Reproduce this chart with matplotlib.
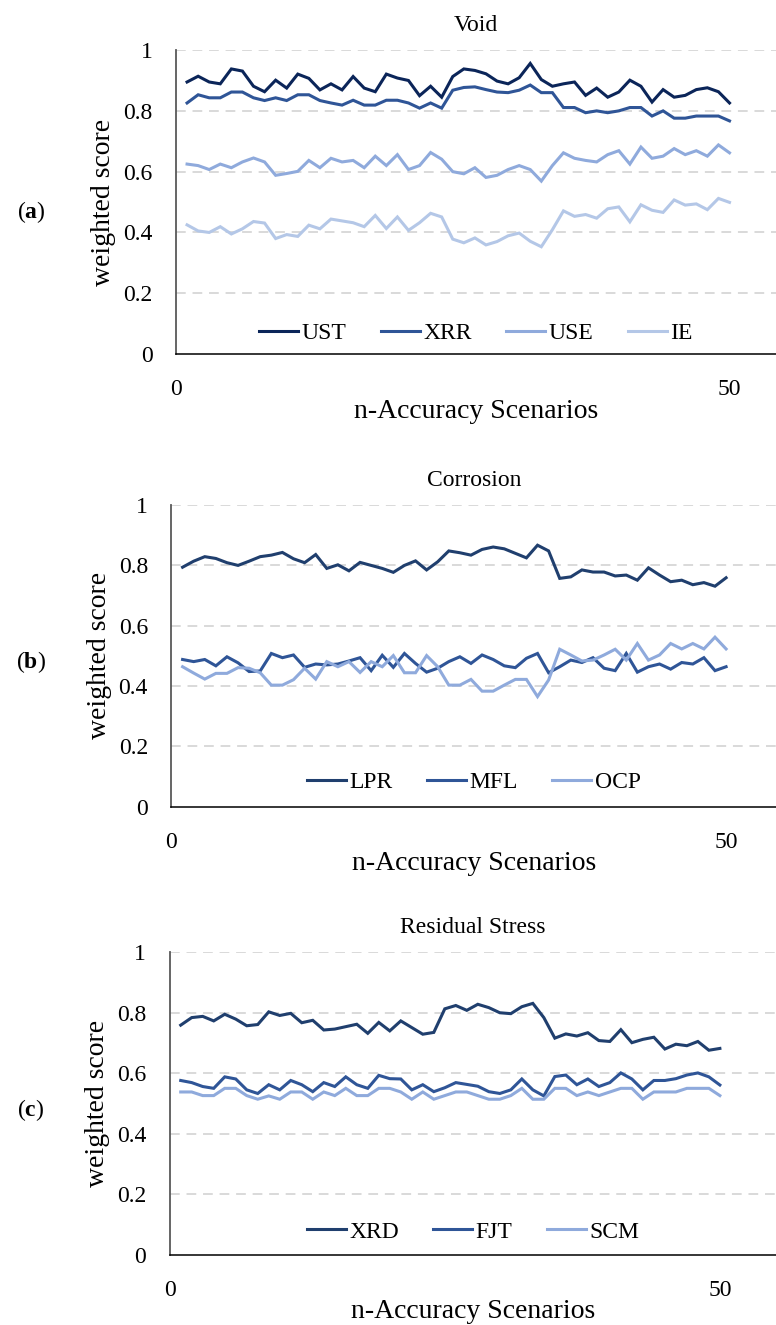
import matplotlib
matplotlib.use("Agg")
import matplotlib.pyplot as plt

plt.rcParams['font.family'] = ['Liberation Serif', 'DejaVu Serif']
plt.rcParams['mathtext.fontset'] = 'custom'
plt.rcParams['mathtext.rm'] = 'Liberation Serif'
plt.rcParams['mathtext.bf'] = 'Liberation Serif:bold'

# escenarios 1..50
scenarios = list(range(1, 51))

# (a) Void
void_labels = ["UST", "XRR", "USE", "IE"]
void_ust = [0.895, 0.914, 0.895, 0.889, 0.938, 0.931, 0.881, 0.863, 0.901, 0.875,
            0.921, 0.907, 0.869, 0.889, 0.869, 0.913, 0.875, 0.863, 0.921, 0.908,
            0.900, 0.850, 0.881, 0.845, 0.913, 0.938, 0.933, 0.922, 0.898, 0.889,
            0.909, 0.956, 0.903, 0.881, 0.889, 0.895, 0.851, 0.875, 0.845, 0.862,
            0.901, 0.881, 0.829, 0.870, 0.845, 0.851, 0.870, 0.876, 0.863, 0.826]
void_xrr = [0.826, 0.853, 0.843, 0.843, 0.862, 0.862, 0.843, 0.834, 0.843, 0.834,
            0.853, 0.853, 0.834, 0.826, 0.819, 0.835, 0.819, 0.819, 0.835, 0.835,
            0.826, 0.809, 0.826, 0.809, 0.868, 0.877, 0.879, 0.870, 0.862, 0.860,
            0.868, 0.885, 0.860, 0.860, 0.811, 0.811, 0.794, 0.800, 0.794, 0.800,
            0.811, 0.811, 0.783, 0.800, 0.776, 0.776, 0.783, 0.783, 0.783, 0.767]
void_use = [0.625, 0.620, 0.607, 0.625, 0.613, 0.632, 0.645, 0.632, 0.588, 0.594,
            0.601, 0.637, 0.613, 0.644, 0.632, 0.637, 0.613, 0.651, 0.620, 0.656,
            0.607, 0.620, 0.663, 0.641, 0.600, 0.593, 0.613, 0.581, 0.588, 0.607,
            0.620, 0.607, 0.569, 0.620, 0.662, 0.644, 0.637, 0.632, 0.656, 0.669,
            0.625, 0.681, 0.644, 0.651, 0.676, 0.656, 0.669, 0.651, 0.688, 0.662]
void_ie = [0.425, 0.405, 0.400, 0.419, 0.395, 0.412, 0.436, 0.431, 0.380, 0.393,
           0.387, 0.424, 0.412, 0.444, 0.438, 0.432, 0.419, 0.456, 0.413, 0.451,
           0.407, 0.432, 0.463, 0.451, 0.378, 0.366, 0.382, 0.359, 0.370, 0.389,
           0.398, 0.371, 0.353, 0.409, 0.471, 0.453, 0.459, 0.447, 0.478, 0.484,
           0.435, 0.491, 0.473, 0.466, 0.507, 0.490, 0.494, 0.475, 0.512, 0.499]

# (b) Corrosion
corr_labels = ["LPR", "MFL", "OCP"]
corr_lpr = [0.794, 0.814, 0.829, 0.823, 0.809, 0.800, 0.814, 0.829, 0.834, 0.843,
            0.822, 0.809, 0.836, 0.790, 0.802, 0.782, 0.810, 0.800, 0.790, 0.777,
            0.800, 0.815, 0.785, 0.812, 0.848, 0.842, 0.834, 0.853, 0.861, 0.855,
            0.840, 0.825, 0.867, 0.848, 0.757, 0.762, 0.785, 0.778, 0.778, 0.765,
            0.768, 0.751, 0.792, 0.768, 0.746, 0.751, 0.736, 0.743, 0.731, 0.759]
corr_mfl = [0.488, 0.481, 0.488, 0.467, 0.497, 0.477, 0.448, 0.450, 0.508, 0.494,
            0.503, 0.462, 0.473, 0.470, 0.473, 0.483, 0.494, 0.451, 0.502, 0.462,
            0.508, 0.475, 0.446, 0.459, 0.481, 0.497, 0.475, 0.503, 0.488, 0.467,
            0.461, 0.492, 0.508, 0.444, 0.464, 0.486, 0.478, 0.494, 0.459, 0.451,
            0.508, 0.446, 0.464, 0.473, 0.456, 0.478, 0.473, 0.494, 0.451, 0.464]
corr_ocp = [0.464, 0.443, 0.423, 0.442, 0.442, 0.461, 0.459, 0.444, 0.403, 0.403,
            0.421, 0.459, 0.423, 0.481, 0.464, 0.481, 0.445, 0.481, 0.464, 0.501,
            0.444, 0.444, 0.501, 0.464, 0.403, 0.403, 0.422, 0.383, 0.383, 0.403,
            0.422, 0.422, 0.365, 0.420, 0.522, 0.503, 0.483, 0.486, 0.503, 0.522,
            0.486, 0.541, 0.486, 0.503, 0.541, 0.523, 0.541, 0.523, 0.562, 0.523]

# (c) Residual Stress
stress_labels = ["XRD", "FJT", "SCM"]
stress_xrd = [0.759, 0.784, 0.788, 0.773, 0.795, 0.779, 0.757, 0.761, 0.803, 0.791,
              0.798, 0.767, 0.775, 0.743, 0.746, 0.754, 0.762, 0.732, 0.768, 0.740,
              0.773, 0.751, 0.729, 0.735, 0.813, 0.824, 0.808, 0.828, 0.817, 0.800,
              0.797, 0.820, 0.831, 0.784, 0.716, 0.730, 0.723, 0.734, 0.708, 0.705,
              0.744, 0.701, 0.712, 0.719, 0.680, 0.696, 0.691, 0.705, 0.676, 0.682]
stress_fjt = [0.576, 0.569, 0.556, 0.550, 0.588, 0.581, 0.545, 0.533, 0.562, 0.545,
              0.576, 0.562, 0.539, 0.569, 0.556, 0.588, 0.562, 0.550, 0.593, 0.582,
              0.581, 0.545, 0.562, 0.539, 0.552, 0.569, 0.563, 0.557, 0.539, 0.533,
              0.545, 0.581, 0.545, 0.525, 0.589, 0.594, 0.562, 0.581, 0.556, 0.569,
              0.601, 0.581, 0.545, 0.576, 0.576, 0.582, 0.594, 0.601, 0.588, 0.561]
stress_scm = [0.538, 0.538, 0.526, 0.526, 0.550, 0.550, 0.526, 0.514, 0.525, 0.514,
              0.538, 0.538, 0.514, 0.538, 0.526, 0.550, 0.526, 0.526, 0.550, 0.550,
              0.538, 0.514, 0.538, 0.514, 0.526, 0.538, 0.538, 0.526, 0.514, 0.514,
              0.526, 0.550, 0.514, 0.514, 0.550, 0.550, 0.526, 0.538, 0.526, 0.538,
              0.550, 0.550, 0.514, 0.538, 0.538, 0.538, 0.550, 0.550, 0.550, 0.526]

y_ticks = [0, 0.2, 0.4, 0.6, 0.8, 1.0]
y_ticklabels = ["0", "0.2", "0.4", "0.6", "0.8", "1"]


def draw_panel(fig, rect, xmax, title, tag, tag_y, series, labels, colors, legend_y):
    ax = fig.add_axes(rect)
    for vals, lab, col in zip(series, labels, colors):
        ax.plot(scenarios, vals, color=col, lw=2.2, label=lab, solid_joinstyle="miter")
    ax.set_xlim(0, xmax)
    ax.set_ylim(0, 1)
    ax.set_yticks(y_ticks)
    ax.set_yticklabels(y_ticklabels)
    ax.set_xticks([0, 50])
    ax.set_xticklabels(["0", "50"])
    for g in y_ticks[1:]:
        ax.axhline(g, color="#d9d9d9", lw=1.4, ls=(0, (5, 3.5)), zorder=0)
    ax.tick_params(axis="both", length=0, labelsize=17)
    ax.tick_params(axis="x", pad=18)
    ax.tick_params(axis="y", pad=17)
    for s in ["top", "right"]:
        ax.spines[s].set_visible(False)
    ax.spines["left"].set_color("#595959")
    ax.spines["left"].set_linewidth(1.3)
    ax.spines["bottom"].set_color("#000000")
    ax.spines["bottom"].set_linewidth(1.1)
    ax.set_title(title, fontsize=17, pad=14)
    ax.set_xlabel("n-Accuracy Scenarios", fontsize=20, labelpad=-1)
    ax.set_ylabel("weighted score", fontsize=20, labelpad=5)
    ax.legend(loc="center", bbox_to_anchor=(0.5, legend_y), ncol=len(labels),
              frameon=False, fontsize=17, handlelength=1.65, handletextpad=0.15,
              columnspacing=1.45, borderaxespad=0)
    fig.text(0.04, tag_y, r"($\mathbf{" + tag + r"}$)", fontsize=17,
             ha="center", va="center")
    return ax


fig = plt.figure(figsize=(7.76, 13.25), dpi=100)

draw_panel(fig, [0.2268, 0.7328, 0.7732, 0.2294], 54.2, "Void", "a", 1 - 212 / 1325,
           [void_ust, void_xrr, void_use, void_ie], void_labels,
           ["#0b2559", "#2f5597", "#8faadc", "#b4c7e7"], 0.069)

draw_panel(fig, [0.2210, 0.3912, 0.7790, 0.2276], 54.5, "Corrosion", "b", 1 - 662 / 1325,
           [corr_lpr, corr_mfl, corr_ocp], corr_labels,
           ["#203f6e", "#2f5597", "#8faadc"], 0.08)

draw_panel(fig, [0.2187, 0.0531, 0.7813, 0.2282], 55.1, "Residual Stress", "c", 1 - 1110 / 1325,
           [stress_xrd, stress_fjt, stress_scm], stress_labels,
           ["#203f6e", "#2f5597", "#8faadc"], 0.075)

fig.savefig("out.png", dpi=100)
